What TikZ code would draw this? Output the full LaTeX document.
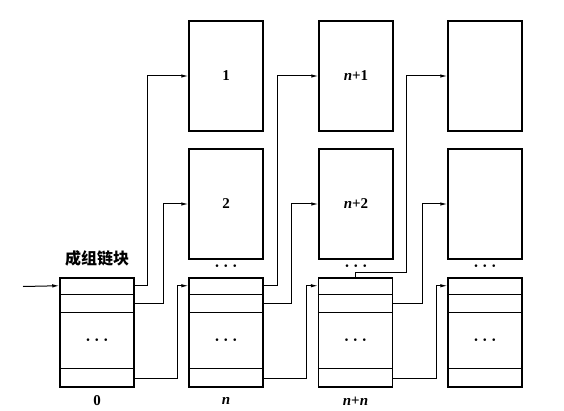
\documentclass[tikz,border=0pt]{standalone}
\usepackage{fontspec}
\setmainfont{Liberation Serif}
\newfontfamily\cjk{Noto Sans CJK SC}
\usetikzlibrary{arrows.meta}

\begin{document}
\begin{tikzpicture}[
	x = 1pt, y = -1pt,
	caja/.style = {
		draw, line width = 1.5pt, inner sep = 0pt,
		minimum width = 74pt, minimum height = 110pt,
		font = \bfseries\fontsize{15}{15}\selectfont
	},
	bloque/.style = {
		draw, line width = 1.5pt, inner sep = 0pt,
		minimum width = 74pt, minimum height = 109pt
	},
	enlace/.style = {line width = 1pt, -{Latex[length = 7pt, width = 3.5pt]}},
	etiqueta/.style = {font = \bfseries\fontsize{15}{15}\selectfont},
	puntos/.style = {font = \fontsize{19}{19}\selectfont\boldmath},
]

	% márgenes del dibujo
	\useasboundingbox (0,0) rectangle (564,411);

	% bloques de datos
	\node[caja] (C11) at (226,76) {1};
	\node[caja] (C12) at (226,204) {2};
	\node[caja] (C21) at (356,76) {\textit{n}+1};
	\node[caja] (C22) at (356,204) {\textit{n}+2};
	\node[caja] (C31) at (485,76) {};
	\node[caja] (C32) at (485,204) {};

	\foreach \x in {226,356,485}
		\node[puntos] at (\x,266) {$\cdots$};

	% bloques de enlace en grupo
	\node[bloque] (B0) at (97,332.5) {};
	\node[bloque] (B1) at (226,332.5) {};
	\node[bloque] (B2) at (355.5,332.5) {};
	\node[bloque] (B3) at (485,332.5) {};

	\foreach \b in {B0,B1,B2,B3} {
		\draw[line width = 1.3pt]
			([yshift = -17pt]\b.north west) -- ([yshift = -17pt]\b.north east)
			([yshift = -35pt]\b.north west) -- ([yshift = -35pt]\b.north east)
			([yshift = 19pt]\b.south west) -- ([yshift = 19pt]\b.south east);
		\node[puntos] at ([yshift = -8pt]\b.center) {$\cdots$};
		\coordinate (\b-e) at ([yshift = -8.5pt]\b.north west);
		\coordinate (\b-1) at ([yshift = -8.5pt]\b.north east);
		\coordinate (\b-2) at ([yshift = -26pt]\b.north east);
		\coordinate (\b-4) at ([yshift = 9.5pt]\b.south east);
	}

	% etiquetas
	\node[font = \cjk\bfseries\fontsize{16}{16}\selectfont] (T) at (97,258) {成组链块};
	\node[etiqueta] (L0) at (97,401) {0};
	\node[etiqueta] (L1) at (226,401) {\textit{n}};
	\node[etiqueta] (L2) at (355.5,401) {\textit{n}+\textit{n}};

	% entrada
	\coordinate (E) at (23,286.5);
	\draw[enlace] (E) -- (B0-e);

	% enlaces del bloque 0
	\draw[enlace] (B0-1) -- ++(13,0) |- (C11.west);
	\draw[enlace] (B0-2) -- ++(29,0) |- (C12.west);
	\draw[enlace] (B0-4) -- ++(43,0) |- (B1-e);

	% enlaces del bloque n
	\draw[enlace] (B1-1) -- ++(14,0) |- (C21.west);
	\draw[enlace] (B1-2) -- ++(28,0) |- (C22.west);
	\draw[enlace] (B1-4) -- ++(43,0) |- (B2-e);

	% enlaces del bloque n+n
	\draw[enlace] (B2.north) -- ++(0,-5) -- ++(51,0) |- (C31.west);
	\draw[enlace] (B2-2) -- ++(29,0) |- (C32.west);
	\draw[enlace] (B2-4) -- ++(43,0) |- (B3-e);

\end{tikzpicture}
\end{document}
